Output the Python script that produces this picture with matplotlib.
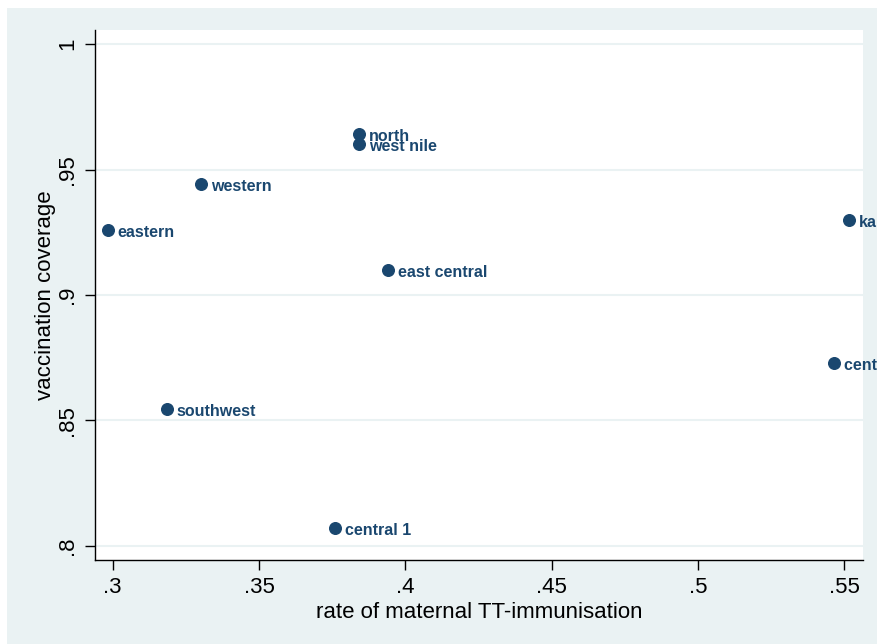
import matplotlib.pyplot as plt
from matplotlib.patches import Rectangle

# regions: rate of maternal TT-immunisation vs vaccination coverage
regions = ["north", "west nile", "western", "eastern", "kampala",
           "east central", "central 2", "southwest", "central 1"]
tt_rate = [0.3841, 0.3841, 0.3302, 0.2984, 0.5515, 0.3941, 0.5464, 0.3186, 0.3760]
coverage = [0.9641, 0.9602, 0.9442, 0.9259, 0.9299, 0.9100, 0.8729, 0.8546, 0.8072]

xticks = [0.3, 0.35, 0.4, 0.45, 0.5, 0.55]
xtick_labels = [".3", ".35", ".4", ".45", ".5", ".55"]
yticks = [0.8, 0.85, 0.9, 0.95, 1.0]
ytick_labels = [".8", ".85", ".9", ".95", "1"]

navy = "#1a476f"
bg = "#eaf2f3"

plt.rcParams['font.family'] = ['Liberation Sans', 'DejaVu Sans']

fig = plt.figure(figsize=(8.77, 6.44), dpi=100)
fig.patch.set_facecolor("white")
fig.patches.append(Rectangle((7 / 877, 0), 1, 1 - 8 / 644, transform=fig.transFigure,
                             facecolor=bg, edgecolor="none", zorder=-10))

ax = fig.add_axes([95 / 877, 1 - 560 / 644, (863 - 95) / 877, (560 - 30) / 644])
ax.set_facecolor("white")

ax.scatter(tt_rate, coverage, s=70, color=navy, zorder=3, clip_on=True)
for name, x, y in zip(regions, tt_rate, coverage):
    # labels may run past the plot area, they get cut at the figure edge
    ax.annotate(name, (x, y), xytext=(7, -2), textcoords="offset points",
                ha="left", va="center", fontsize=11.5, color=navy,
                fontweight="bold", annotation_clip=False)

ax.set_xlim(0.29395, 0.55636)
ax.set_ylim(0.7944, 1.0056)

ax.set_xticks(xticks)
ax.set_xticklabels(xtick_labels)
ax.set_yticks(yticks)
ax.set_yticklabels(ytick_labels, rotation=90, va="center")
ax.tick_params(axis="both", length=7, width=1, labelsize=16, pad=5, color="black")

ax.yaxis.grid(True, color=bg, linewidth=1.5)
ax.set_axisbelow(True)

for side in ["top", "right"]:
    ax.spines[side].set_visible(False)
for side in ["left", "bottom"]:
    ax.spines[side].set_linewidth(1)
    ax.spines[side].set_color("black")

ax.set_xlabel("rate of maternal TT-immunisation", fontsize=16, labelpad=3)
ax.set_ylabel("vaccination coverage", fontsize=16, labelpad=1)

fig.savefig("out.png", dpi=100, facecolor=fig.get_facecolor())
